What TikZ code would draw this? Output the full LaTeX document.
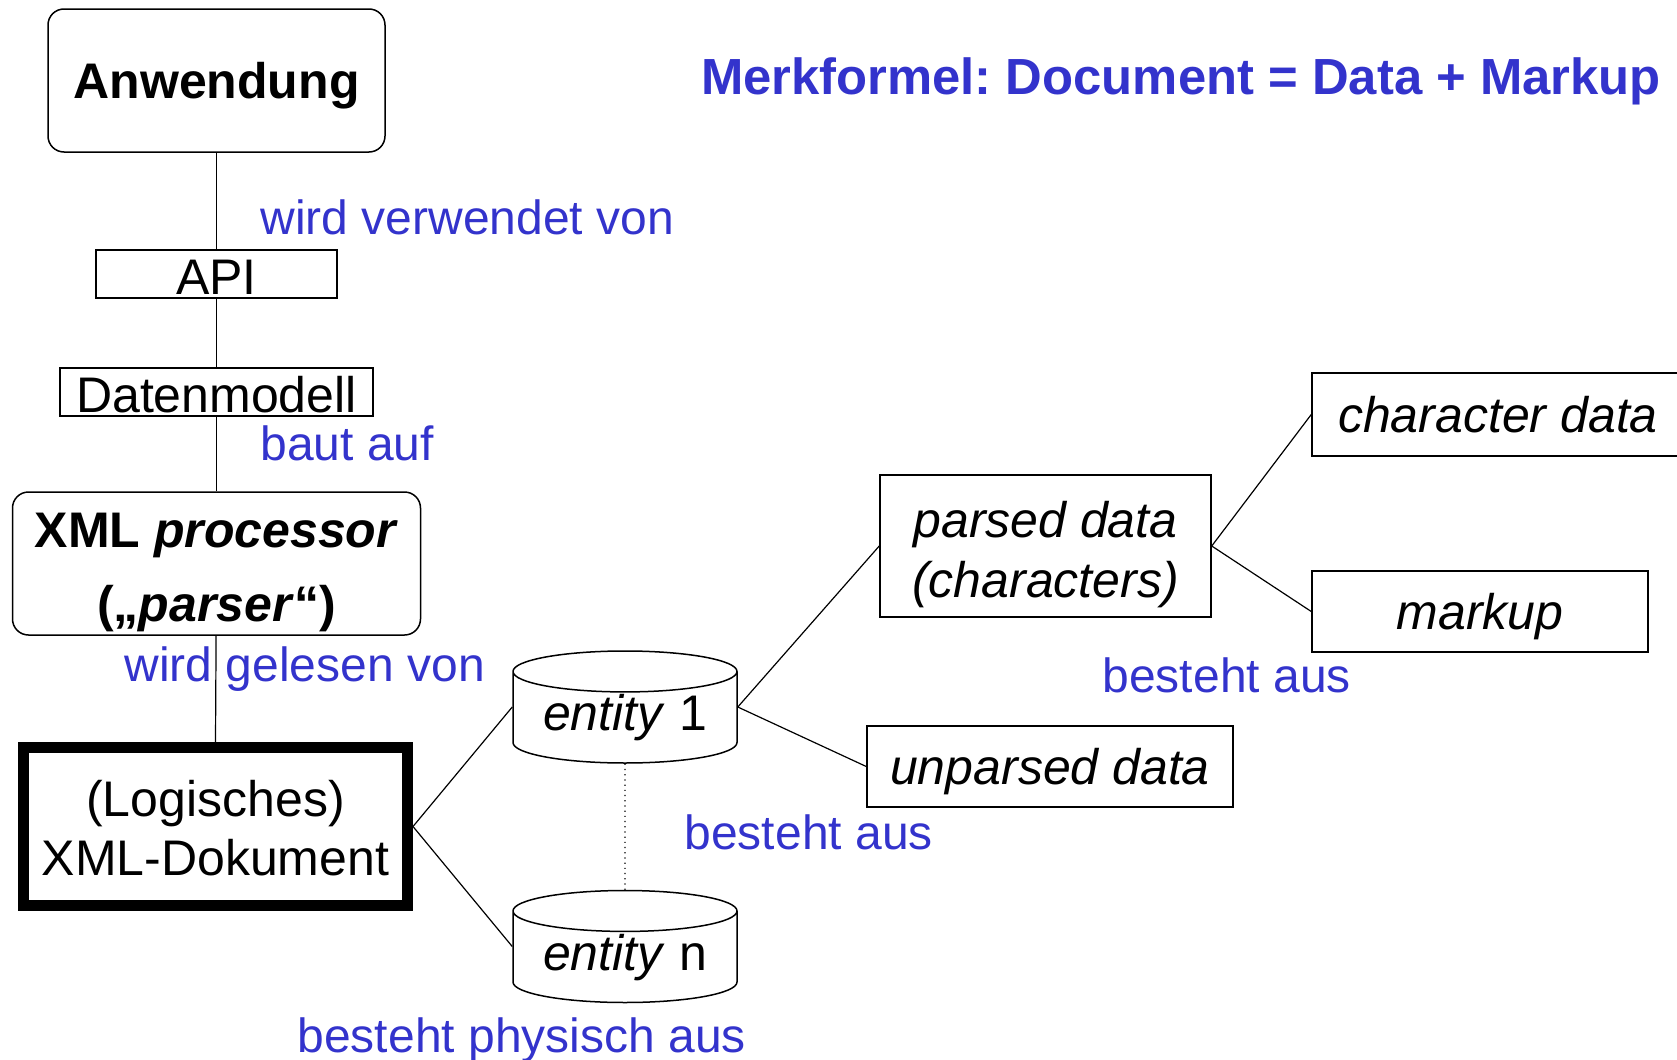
\documentclass[tikz,border=0pt]{standalone}
\usepackage{fontspec}
\setmainfont{Liberation Sans}
\usepackage{xcolor}
\usepackage{tikz}
\usetikzlibrary{shapes.geometric}
\definecolor{relblue}{RGB}{51,51,204}
\frenchspacing

\begin{document}
\begin{tikzpicture}[x=0.5pt,y=-0.5pt,semithick]
  \tikzstyle{box}=[draw, rectangle, inner sep=0pt, line width=0.75pt, align=center, font=\fontsize{25}{30}\selectfont]
  \tikzstyle{rbox}=[box, rounded corners=8pt]
  \tikzstyle{thin}=[box, text height=20pt, text depth=0pt]
  \tikzstyle{data}=[box, font=\fontsize{25}{30}\selectfont\itshape]
  \tikzstyle{ent}=[draw, cylinder, shape border rotate=90, aspect=0.25, inner sep=0pt, line width=0.75pt,
                   minimum width=112pt, minimum height=56pt, anchor=shape center, font=\fontsize{25}{30}\selectfont]
  \tikzstyle{rel}=[text=relblue, inner sep=0pt, anchor=base west, font=\fontsize{24}{28}\selectfont]
  \clip (0,0) rectangle (1677,1060);

  % left column
  \node[rbox, minimum width=168.5pt, minimum height=71.5pt, text depth=0pt, font=\fontsize{25}{30}\selectfont\bfseries] (anw) at (216.5,80.5) {Anwendung};
  \node[thin, minimum width=120.5pt, minimum height=24pt] (api) at (216.5,274) {API};
  \node[thin, minimum width=156.5pt, minimum height=24pt] (dat) at (216.5,392) {Datenmodell};
  \node[rbox, minimum width=204pt, minimum height=71.5pt, font=\fontsize{25}{37}\selectfont\bfseries] (proc) at (216.5,563.5)
       {\rule{0pt}{26.5pt}XML \textit{processor}\\(„\textit{parser}“)};
  \node[box, line width=5.5pt, minimum width=192pt, minimum height=79pt, font=\fontsize{25}{29.5}\selectfont] (doc) at (215.5,826.5)
       {\rule{0pt}{20pt}(Logisches)\\XML-Dokument};

  % entities
  \node[ent] (e1) at (625,707) {\textit{entity} 1};
  \node[ent] (en) at (625,946.5) {\textit{entity} n};

  % data boxes
  \node[data, minimum width=165.5pt, minimum height=71pt] (pars) at (1045.5,546)
       {\rule{0pt}{26.5pt}parsed data\\(characters)};
  \node[data, text depth=0pt, minimum width=183pt, minimum height=40.5pt] (unp) at (1050,766.5) {unparsed data};
  \node[data, text depth=0pt, minimum width=186pt, minimum height=41.5pt] (chr) at (1498,414.5) {character data};
  \node[data, text depth=0pt, minimum width=168pt, minimum height=40.5pt] (mark) at (1480,611.5) {markup};

  % connectors
  \draw (anw) -- (api);
  \draw (api) -- (dat);
  \draw (dat) -- (proc);
  \draw (proc) -- (doc.north);
  \draw (doc.east) -- (e1.shape center -| e1.west);
  \draw (doc.east) -- (en.shape center -| en.west);
  \draw[dotted] (e1.south) -- (en.north);
  \draw (e1.shape center -| e1.east) -- (pars.west);
  \draw (e1.shape center -| e1.east) -- (unp.west);
  \draw (pars.east) -- (chr.west);
  \draw (pars.east) -- (mark.west);

  % relation labels
  \node[rel, font=\fontsize{25.4}{30}\selectfont\bfseries] (title) at (700.5,94) {Merkformel: Document = Data + Markup};
  \node[rel] (used) at (260,234) {wird verwendet von};
  \node[rel] (built) at (260,460) {baut auf};
  \node[rel] (read) at (124,681) {wird gelesen von};
  \node[rel] (phys) at (297,1052) {besteht physisch aus};
  \node[rel] (cons) at (684,849) {besteht aus};
  \node[rel] (consr) at (1102,692) {besteht aus};
\end{tikzpicture}
\end{document}
